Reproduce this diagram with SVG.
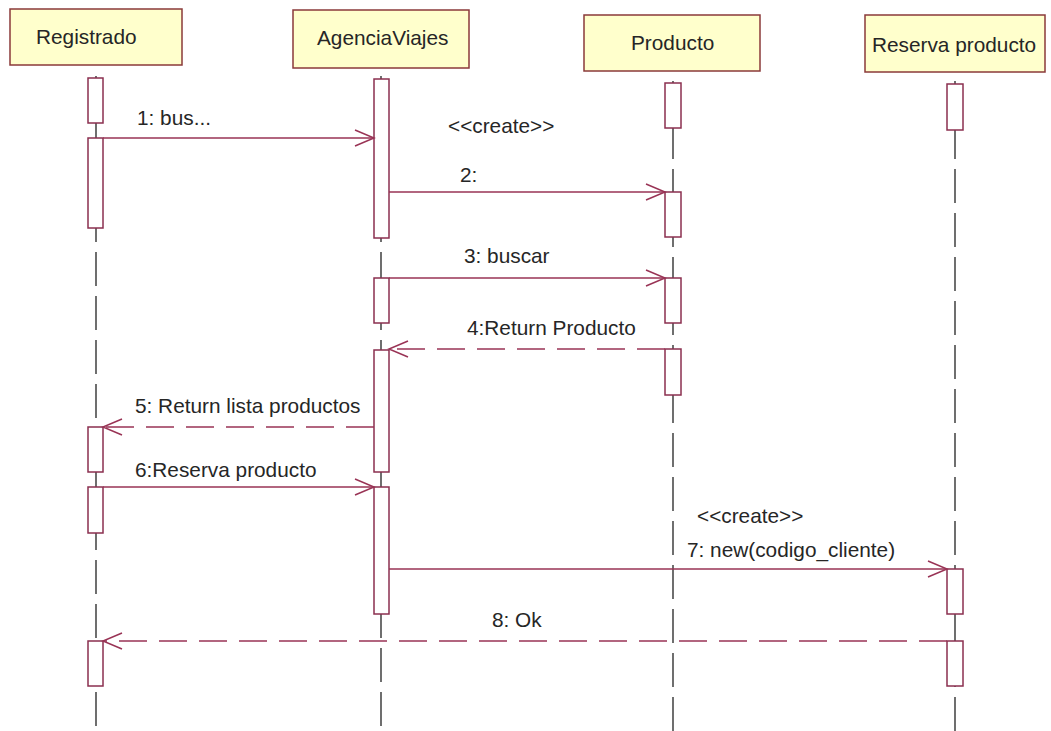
<svg xmlns="http://www.w3.org/2000/svg" width="1051" height="731" viewBox="0 0 1051 731">
<style>
text{font-family:"Liberation Sans",Arial,sans-serif;font-size:20.8px;fill:#262626}
.head{fill:#ffffcc;stroke:#8b3a3a;stroke-width:1.5}
.life{stroke:#222;stroke-width:1.3;stroke-dasharray:34 10;fill:none}
.act{fill:#fff;stroke:#8b2f4f;stroke-width:1.5}
.msg{stroke:#993355;stroke-width:1.5;fill:none}
.ret{stroke:#993355;stroke-width:1.5;fill:none;stroke-dasharray:28 12}
</style>
<defs>
<marker id="open" markerUnits="userSpaceOnUse" markerWidth="24" markerHeight="20" viewBox="-21 -10 24 20" refX="0" refY="0" orient="auto">
<path d="M-19,-8 L0,0 L-19,8" fill="none" stroke="#993355" stroke-width="1.5"/>
</marker>
</defs>
<rect width="1051" height="731" fill="#fff"/>
<g id="lifelines">
<line class="life" x1="96" y1="76" x2="96" y2="731"/>
<line class="life" x1="381" y1="76" x2="381" y2="731"/>
<line class="life" x1="673" y1="81" x2="673" y2="731"/>
<line class="life" x1="955" y1="81" x2="955" y2="731"/>
</g>
<g id="Registrado">
<rect class="head" x="10" y="9" width="172" height="56"/>
<text x="36" y="44">Registrado</text>
<rect class="act" x="88" y="78" width="15" height="45"/>
<rect class="act" x="88" y="138" width="15" height="90"/>
<rect class="act" x="88" y="427" width="15" height="45"/>
<rect class="act" x="88" y="487" width="15" height="46"/>
<rect class="act" x="88" y="641" width="15" height="45"/>
</g>
<g id="AgenciaViajes">
<rect class="head" x="293" y="10" width="176" height="58"/>
<text x="317" y="45">AgenciaViajes</text>
<rect class="act" x="374" y="79" width="15" height="159"/>
<rect class="act" x="374" y="278" width="15" height="45"/>
<rect class="act" x="374" y="350" width="15" height="122"/>
<rect class="act" x="374" y="487" width="15" height="127"/>
</g>
<g id="Producto">
<rect class="head" x="584" y="15" width="176" height="56"/>
<text x="631" y="50">Producto</text>
<rect class="act" x="665" y="83" width="16" height="45"/>
<rect class="act" x="665" y="192" width="16" height="45"/>
<rect class="act" x="665" y="278" width="16" height="45"/>
<rect class="act" x="665" y="349" width="16" height="46"/>
</g>
<g id="ReservaProducto">
<rect class="head" x="865" y="15" width="180" height="57"/>
<text x="872" y="52">Reserva producto</text>
<rect class="act" x="947" y="84" width="16" height="46"/>
<rect class="act" x="947" y="569" width="16" height="45"/>
<rect class="act" x="947" y="641" width="16" height="45"/>
</g>
<g id="connectors">
<line class="msg" x1="103" y1="138" x2="374" y2="138" marker-end="url(#open)"/>
<text x="137" y="125">1: bus...</text>
<text x="448" y="133">&lt;&lt;create&gt;&gt;</text>
<line class="msg" x1="389" y1="192" x2="665" y2="192" marker-end="url(#open)"/>
<text x="460" y="182">2:</text>
<line class="msg" x1="389" y1="278" x2="665" y2="278" marker-end="url(#open)"/>
<text x="464" y="263">3: buscar</text>
<line class="ret" x1="665" y1="349" x2="389" y2="349" marker-end="url(#open)"/>
<text x="467" y="335">4:Return Producto</text>
<line class="ret" x1="374" y1="427" x2="103" y2="427" marker-end="url(#open)"/>
<text x="135" y="413">5: Return lista productos</text>
<line class="msg" x1="103" y1="487" x2="374" y2="487" marker-end="url(#open)"/>
<text x="135" y="477">6:Reserva producto</text>
<text x="697" y="523">&lt;&lt;create&gt;&gt;</text>
<line class="msg" x1="389" y1="569" x2="947" y2="569" marker-end="url(#open)"/>
<text x="687" y="557">7: new(codigo_cliente)</text>
<line class="ret" x1="947" y1="641" x2="103" y2="641" marker-end="url(#open)"/>
<text x="492" y="627">8: Ok</text>
</g>
</svg>
